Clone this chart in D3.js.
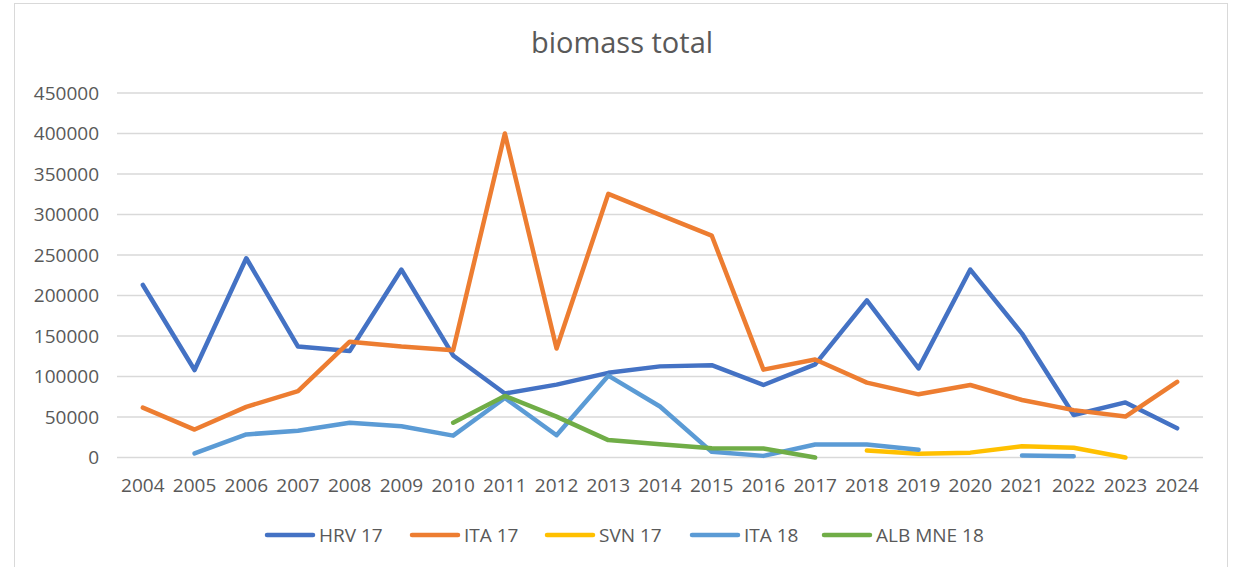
<!DOCTYPE html>
<html>
<head>
<meta charset="utf-8">
<script src="https://cdn.jsdelivr.net/npm/d3@7"></script>
<style>
  body { margin: 0; background: #fff; }
  text { font-family: "Open Sans", "Liberation Sans", sans-serif; fill: #595959; }
</style>
</head>
<body>
<div id="chart"></div>
<script>
// categories
var years = ["2004", "2005", "2006", "2007", "2008", "2009", "2010", "2011", "2012", "2013", "2014",
             "2015", "2016", "2017", "2018", "2019", "2020", "2021", "2022", "2023", "2024"];

// series values (null = no data)
var hrv17 = [213000, 108000, 246000, 137000, 131500, 232000, 126000, 79000, 90000, 104500, 112500,
             114000, 89500, 115000, 194000, 110000, 232000, 153000, 52500, 68000, 36000];
var ita17 = [61500, 34500, 62500, 82000, 143000, 137000, 132500, 400000, 134500, 325500, 299500,
             274000, 108500, 121000, 92500, 78000, 89500, 71000, 58500, 50500, 93500];
var svn17 = [null, null, null, null, null, null, null, null, null, null, null,
             null, null, null, 8500, 4500, 6000, 14000, 12000, 0, null];
var ita18 = [null, 5000, 28500, 33000, 43000, 38500, 27000, 73500, 27500, 101000, 63000,
             7000, 2000, 16000, 16000, 9500, null, 2500, 1500, null, null];
var albMne18 = [null, null, null, null, null, null, 43000, 76000, 50500, 21500, 16500,
                11500, 11000, 0, null, null, null, null, null, null, null];

var seriesNames = ["HRV 17", "ITA 17", "SVN 17", "ITA 18", "ALB MNE 18"];
var seriesValues = [hrv17, ita17, svn17, ita18, albMne18];
var seriesColors = ["#4472C4", "#ED7D31", "#FFC000", "#5B9BD5", "#70AD47"];

var yTicks = [0, 50000, 100000, 150000, 200000, 250000, 300000, 350000, 400000, 450000];

var w = 1235, h = 567;

var svg = d3.select("#chart")
            .append("svg")
            .attr("width", w)
            .attr("height", h);

// chart frame
svg.append("rect")
    .attr("x", 14.5)
    .attr("y", 3.5)
    .attr("width", 1213)
    .attr("height", 570)
    .attr("fill", "#fff")
    .attr("stroke", "#d9d9d9")
    .attr("stroke-width", 1);

// title
svg.append("text")
    .attr("x", 622)
    .attr("y", 53)
    .attr("text-anchor", "middle")
    .attr("font-size", "29px")
    .text("biomass total");

// scales
var xScale = d3.scaleBand()
               .domain(years)
               .range([117, 1203]);

var yScale = d3.scaleLinear()
               .domain([0, 450000])
               .range([457.5, 93]);

// gridlines
svg.append("g")
    .selectAll("line")
    .data(yTicks)
    .enter()
    .append("line")
    .attr("x1", 117)
    .attr("x2", 1203)
    .attr("y1", function(d) { return yScale(d); })
    .attr("y2", function(d) { return yScale(d); })
    .attr("stroke", "#d9d9d9")
    .attr("stroke-width", 1.5);

// y axis labels
var yAxis = d3.axisLeft(yScale)
              .tickValues(yTicks)
              .tickFormat(d3.format("d"))
              .tickSize(0)
              .tickPadding(0);

var yG = svg.append("g")
            .attr("transform", "translate(99,0)")
            .call(yAxis);
yG.select(".domain").remove();
yG.selectAll("text")
    .attr("font-size", "19px")
    .attr("font-family", null)
    .attr("fill", "#595959");

// x axis labels
var xAxis = d3.axisBottom(xScale)
              .tickSize(0)
              .tickPadding(0);

var xG = svg.append("g")
            .attr("transform", "translate(0,478)")
            .call(xAxis);
xG.select(".domain").remove();
xG.selectAll("text")
    .attr("font-size", "19px")
    .attr("font-family", null)
    .attr("fill", "#595959");

// lines
var line = d3.line()
             .defined(function(d) { return d != null; })
             .x(function(d, i) { return xScale(years[i]) + xScale.bandwidth() / 2; })
             .y(function(d) { return yScale(d); });

svg.append("g")
    .selectAll("path")
    .data(seriesValues)
    .enter()
    .append("path")
    .attr("d", line)
    .attr("fill", "none")
    .attr("stroke", function(d, i) { return seriesColors[i]; })
    .attr("stroke-width", 4.5)
    .attr("stroke-linejoin", "round")
    .attr("stroke-linecap", "round");

// legend
var legendX = [265, 410, 545, 690, 822];
var legend = svg.append("g")
                .selectAll("g")
                .data(seriesNames)
                .enter()
                .append("g")
                .attr("transform", function(d, i) { return "translate(" + legendX[i] + ",535)"; });

legend.append("line")
    .attr("x1", 2)
    .attr("x2", 48)
    .attr("stroke", function(d, i) { return seriesColors[i]; })
    .attr("stroke-width", 4.5)
    .attr("stroke-linecap", "round");

legend.append("text")
    .attr("x", 54)
    .attr("dy", "0.35em")
    .attr("font-size", "19px")
    .text(function(d) { return d; });
</script>
</body>
</html>
